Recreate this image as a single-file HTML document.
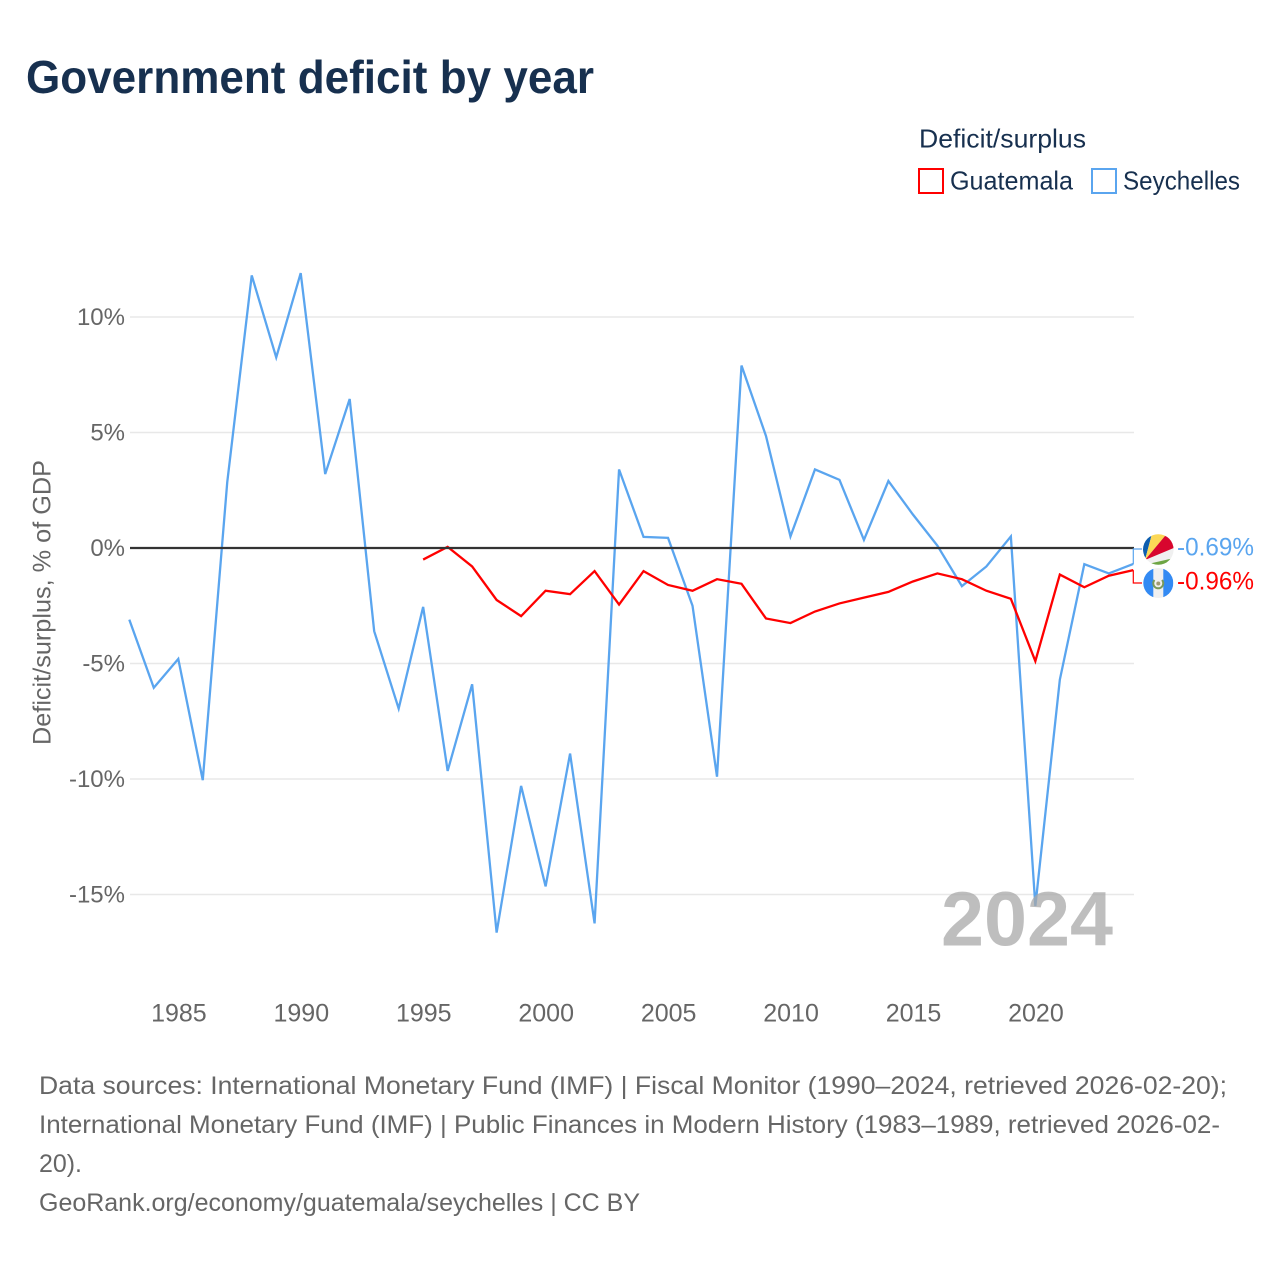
<!DOCTYPE html>
<html lang="en">
<head>
<meta charset="utf-8">
<title>Government deficit by year</title>
<style>
html,body{margin:0;padding:0;background:#fff;}
svg{display:block;font-family:"Liberation Sans",sans-serif;}
</style>
</head>
<body>
<svg id="chart" xmlns="http://www.w3.org/2000/svg" width="1280" height="1280" viewBox="0 0 1280 1280">
  <rect x="0" y="0" width="1280" height="1280" fill="#ffffff"/>
  <text x="26" y="93" font-size="46" font-weight="700" fill="#17304f" textLength="568" lengthAdjust="spacingAndGlyphs">Government deficit by year</text>

  <g>
    <text x="919" y="147.5" font-size="26" fill="#17304f" textLength="167" lengthAdjust="spacingAndGlyphs">Deficit/surplus</text>
    <g>
      <rect x="919" y="169" width="24" height="24" fill="#fff" stroke="#ff0000" stroke-width="2"/>
      <text x="950" y="189.5" font-size="26" fill="#17304f" textLength="123" lengthAdjust="spacingAndGlyphs">Guatemala</text>
    </g>
    <g>
      <rect x="1092" y="169" width="24" height="24" fill="#fff" stroke="#5aa5ef" stroke-width="2"/>
      <text x="1123" y="189.5" font-size="26" fill="#17304f" textLength="117" lengthAdjust="spacingAndGlyphs">Seychelles</text>
    </g>
  </g>

  <text transform="translate(50.5,745) rotate(-90)" font-size="25" fill="#666666" textLength="285" lengthAdjust="spacingAndGlyphs">Deficit/surplus, % of GDP</text>

  <g id="grid"></g>
  <g id="yticks"></g>
  <g id="xticks"></g>

  <g id="series"></g>
  <g id="zero"></g>
  <g id="connectors"></g>

  <text x="941" y="945.5" font-size="77" font-weight="700" fill="#a8a8a8" fill-opacity="0.75" textLength="172" lengthAdjust="spacingAndGlyphs">2024</text>

  <defs>
    <clipPath id="clip-sc"><circle cx="1158.3" cy="549.5" r="15.3"/></clipPath>
    <clipPath id="clip-gt"><circle cx="1158.3" cy="583" r="15"/></clipPath>
  </defs>
  <g clip-path="url(#clip-sc)">
    <rect x="1142" y="533" width="33" height="33" fill="#f0f0f0"/>
    <polygon points="1145,560 1138,530 1153,530" fill="#0d5eaf"/>
    <polygon points="1145,560 1153,530 1170,530" fill="#fcd856"/>
    <polygon points="1145,560 1170,530 1176,536 1176,547" fill="#d8062e"/>
    <polygon points="1150,563.5 1172,558.5 1176,567 1150,567" fill="#6da544"/>
  </g>
  <g clip-path="url(#clip-gt)">
    <rect x="1143" y="568" width="30" height="30" fill="#f0f0f0"/>
    <rect x="1143" y="568" width="10.3" height="30" fill="#338af3"/>
    <rect x="1163.3" y="568" width="10" height="30" fill="#338af3"/>
    <path d="M1154.5,580 A5,5 0 1 0 1162,580" fill="none" stroke="#7a9a5a" stroke-width="2"/>
    <circle cx="1158.3" cy="583.5" r="2" fill="#a09a70"/>
  </g>
  <text id="label-sc" x="1177" y="555.5" font-size="25" fill="#5aa5ef" textLength="77" lengthAdjust="spacingAndGlyphs"></text>
  <text id="label-gt" x="1177" y="589.5" font-size="25" fill="#ff0000" textLength="77" lengthAdjust="spacingAndGlyphs"></text>

  <g font-size="25" fill="#666666">
    <text x="39" y="1094" textLength="1188" lengthAdjust="spacingAndGlyphs">Data sources: International Monetary Fund (IMF) | Fiscal Monitor (1990–2024, retrieved 2026-02-20);</text>
    <text x="39" y="1133" textLength="1181" lengthAdjust="spacingAndGlyphs">International Monetary Fund (IMF) | Public Finances in Modern History (1983–1989, retrieved 2026-02-</text>
    <text x="39" y="1172" textLength="43" lengthAdjust="spacingAndGlyphs">20).</text>
    <text x="39" y="1211" textLength="601" lengthAdjust="spacingAndGlyphs">GeoRank.org/economy/guatemala/seychelles | CC BY</text>
  </g>
</svg>
<script>
var years = [1983,1984,1985,1986,1987,1988,1989,1990,1991,1992,1993,1994,1995,1996,1997,1998,1999,2000,2001,2002,2003,2004,2005,2006,2007,2008,2009,2010,2011,2012,2013,2014,2015,2016,2017,2018,2019,2020,2021,2022,2023,2024];
var seychelles = [-3.1,-6.05,-4.8,-10.05,2.85,11.8,8.25,11.9,3.2,6.45,-3.6,-6.95,-2.55,-9.65,-5.9,-16.65,-10.3,-14.65,-8.9,-16.25,3.4,0.48,0.44,-2.5,-9.9,7.9,4.85,0.5,3.4,2.95,0.35,2.9,1.45,0.1,-1.65,-0.8,0.5,-15.5,-5.7,-0.7,-1.1,-0.69];
var guatemala = [null,null,null,null,null,null,null,null,null,null,null,null,-0.5,0.05,-0.8,-2.25,-2.95,-1.85,-2.0,-1.0,-2.45,-1.0,-1.6,-1.85,-1.35,-1.55,-3.05,-3.25,-2.75,-2.4,-2.15,-1.9,-1.45,-1.1,-1.35,-1.85,-2.2,-4.9,-1.15,-1.7,-1.2,-0.96];
var yTickValues = [10,5,-5,-10,-15];
var zeroTickValue = [0];
var xTickValues = [1985,1990,1995,2000,2005,2010,2015,2020];

var SVG_NS = 'http://www.w3.org/2000/svg';
function xScale(year){ return 129.3 + (year - 1983) * 1004 / 41; }
function yScale(v){ return 548 - v * 23.1; }
function make(tag, parent, attrs){
  var el = document.createElementNS(SVG_NS, tag);
  for (var k in attrs) el.setAttribute(k, attrs[k]);
  parent.appendChild(el);
  return el;
}
var grid = document.getElementById('grid');
var yticks = document.getElementById('yticks');
var xticks = document.getElementById('xticks');
var series = document.getElementById('series');
var zero = document.getElementById('zero');
var connectors = document.getElementById('connectors');

yTickValues.forEach(function(v){
  var line = make('line', grid, {x1:130, x2:1134, y1:yScale(v), y2:yScale(v), stroke:'#e8e8e8', 'stroke-width':1.6});
  
  
});
yTickValues.concat(zeroTickValue).forEach(function(v){
  var t = make('text', yticks, {x:125, y:yScale(v) + 8.2, 'text-anchor':'end', 'font-size':24, fill:'#666666'});
  
  
  t.textContent = v + '%';
});
xTickValues.forEach(function(v){
  var t = make('text', xticks, {x:xScale(v) + 0.6, y:1021.3, 'text-anchor':'middle', 'font-size':25, fill:'#666666'});
  
  
  t.textContent = String(v);
});

function pathFor(values){
  var pts = [];
  values.forEach(function(v, i){
    if (v !== null) pts.push(xScale(years[i]).toFixed(2) + ',' + yScale(v).toFixed(2));
  });
  return 'M' + pts.join('L');
}
var lineSc = make('path', series, {d:pathFor(seychelles), fill:'none', stroke:'#5aa5ef', 'stroke-width':2.3, 'stroke-linejoin':'miter'});


var lineGt = make('path', series, {d:pathFor(guatemala), fill:'none', stroke:'#ff0000', 'stroke-width':2.3, 'stroke-linejoin':'miter'});



var zeroLine = make('line', zero, {x1:130, x2:1134, y1:yScale(0), y2:yScale(0), stroke:'#333333', 'stroke-width':2.2});



var lastSc = seychelles[seychelles.length - 1];
var lastGt = guatemala[guatemala.length - 1];
var connSc = make('path', connectors, {d:'M1133.3,' + yScale(lastSc) + 'V549H1142', fill:'none', stroke:'#5aa5ef', 'stroke-width':1.2});


var connGt = make('path', connectors, {d:'M1133.3,' + yScale(lastGt) + 'V583H1142', fill:'none', stroke:'#ff0000', 'stroke-width':1.2});



document.getElementById('label-sc').textContent = lastSc.toFixed(2) + '%';
document.getElementById('label-gt').textContent = lastGt.toFixed(2) + '%';
</script>
</body>
</html>
